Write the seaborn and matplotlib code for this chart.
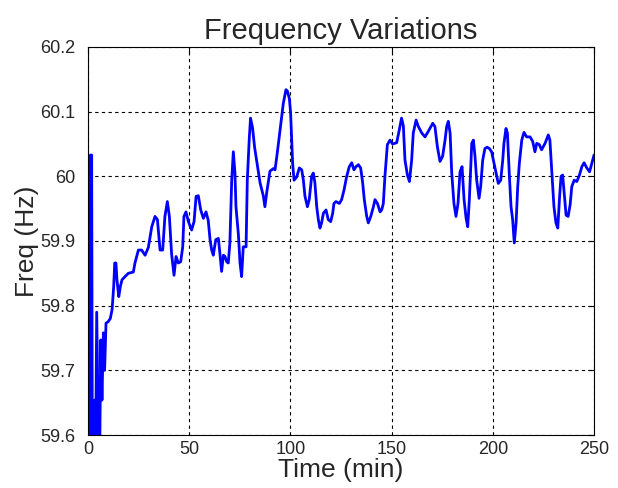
import numpy as np
import pandas as pd
import seaborn as sns
import matplotlib.pyplot as plt

# values
time_min = [0.0, 0.3, 0.6, 0.9, 1.2, 1.5, 1.8, 2.2, 3.0, 3.3, 3.6, 4.3, 4.9, 5.6, 6.3, 6.9, 7.6,
            8.2, 8.9, 9.9,
            11.0, 11.9, 12.7, 13.2, 13.8, 14.3, 15.2, 16.0, 16.8, 18.3, 19.9, 22.4, 23.2, 24.9,
            26.5, 28.2, 29.8, 31.5, 33.1, 34.3, 35.6, 36.9, 38.0, 39.2, 40.2, 41.3, 42.5, 43.5,
            44.6, 45.8, 46.8, 47.4, 48.4, 49.6, 51.2, 52.4, 53.4, 54.5, 55.7, 57.0, 58.3, 59.4,
            60.3, 61.1, 61.9, 63.1, 64.4, 65.2, 66.0, 66.9, 67.7, 68.5, 69.3, 70.1, 71.0, 71.8,
            72.6, 73.1, 74.3, 75.1, 75.9, 76.7, 78.1, 78.7, 79.7, 80.3, 81.3, 82.3, 83.3, 85.0,
            86.6, 87.4, 88.3, 89.9, 91.6, 92.4, 93.5, 94.9, 96.5, 97.8, 98.5, 99.5, 100.1, 100.6,
            101.1, 101.8, 103.1, 104.4, 105.6, 106.4, 107.2, 108.4, 109.3, 110.5, 111.3, 112.1,
            113.0, 113.8, 114.6, 115.4, 116.3, 117.6, 118.7, 119.9, 120.9, 121.5, 122.5, 124.2,
            125.3, 126.5, 127.8, 129.1, 130.3, 131.4, 132.4, 133.6, 134.7, 135.7, 136.5, 137.7,
            138.5, 139.7, 141.0, 141.8, 143.0, 144.3, 145.1, 145.9, 146.7, 147.9, 149.2, 150.5,
            152.5, 153.8, 154.9, 155.8, 156.6, 157.8, 158.8, 159.9, 160.7, 162.1, 163.2, 164.9,
            166.5, 168.2, 170.3, 171.4, 172.6, 173.9, 175.2, 176.4, 177.2, 178.0, 178.9, 179.7,
            180.8, 181.8, 182.8, 183.8, 184.8, 185.8, 186.8, 187.6, 188.4, 189.6, 190.4, 191.2,
            192.0, 193.2, 194.0, 195.0, 196.1, 197.2, 198.3, 199.4, 200.6, 201.6, 202.7, 203.9,
            204.9, 205.5, 206.5, 207.2, 208.2, 209.0, 209.8, 210.6, 211.5, 212.3, 213.1, 214.3,
            215.4, 216.7, 218.4, 219.7, 220.8, 221.7, 223.0, 224.1, 225.8, 227.4, 228.2, 229.1,
            230.2, 231.2, 232.1, 232.9, 233.7, 234.5, 235.4, 236.2, 237.2, 238.2, 239.0, 240.2,
            241.5, 242.8, 244.0, 245.1, 246.4, 247.8, 248.9, 250.0]

freq_hz = [60.0, 59.5, 60.0, 59.5, 60.033, 59.5, 60.033, 59.5, 59.5, 59.654, 59.5, 59.79, 59.654,
           59.5, 59.747, 59.654, 59.758, 59.70, 59.773, 59.775,
           59.78, 59.794, 59.83, 59.866, 59.866, 59.84,
           59.814, 59.83, 59.84, 59.845, 59.85, 59.852, 59.866, 59.886, 59.886, 59.878, 59.89,
           59.922, 59.938, 59.933, 59.886, 59.886, 59.938, 59.961, 59.938, 59.88, 59.847, 59.876,
           59.866, 59.868, 59.891, 59.938, 59.945, 59.93, 59.917, 59.93, 59.969, 59.97, 59.948,
           59.935, 59.945, 59.932, 59.902, 59.886, 59.878, 59.902, 59.904, 59.88, 59.853, 59.878,
           59.876, 59.868, 59.866, 59.897, 59.994, 60.038, 60.005, 59.953, 59.91, 59.866, 59.845,
           59.891, 59.891, 59.994, 60.06, 60.09, 60.075, 60.045, 60.025, 59.99, 59.97, 59.953,
           59.975, 60.008, 60.012, 60.01, 60.036, 60.072, 60.113, 60.134, 60.132, 60.12, 60.098,
           60.061, 60.02, 59.994, 59.999, 60.013, 60.01, 59.994, 59.969, 59.953, 59.964, 60.0,
           60.005, 59.99, 59.953, 59.933, 59.92, 59.928, 59.943, 59.948, 59.933, 59.93, 59.943,
           59.958, 59.961, 59.958, 59.964, 59.979, 60.0, 60.015, 60.021, 60.01, 60.015, 60.018,
           60.013, 59.99, 59.964, 59.938, 59.928, 59.938, 59.953, 59.964, 59.958, 59.945, 59.948,
           59.958, 60.0, 60.049, 60.056, 60.05, 60.052, 60.072, 60.09, 60.078, 60.025, 60.002,
           59.992, 60.025, 60.067, 60.087, 60.077, 60.067, 60.061, 60.07, 60.082, 60.077, 60.046,
           60.023, 60.031, 60.056, 60.077, 60.085, 60.067, 60.005, 59.958, 59.938, 59.958, 60.007,
           60.015, 59.964, 59.935, 59.922, 59.964, 60.051, 60.056, 60.031, 59.995, 59.966, 59.984,
           60.025, 60.043, 60.045, 60.043, 60.038, 60.02, 60.005, 59.989, 59.994, 60.025, 60.051,
           60.074, 60.067, 60.0, 59.953, 59.933, 59.897, 59.928, 59.984, 60.02, 60.056, 60.068,
           60.061, 60.061, 60.054, 60.038, 60.051, 60.049, 60.041, 60.051, 60.064, 60.056, 60.01,
           59.953, 59.928, 59.92, 59.964, 60.0, 60.002, 59.969, 59.94, 59.938, 59.956, 59.984,
           59.994, 59.992, 60.002, 60.015, 60.021, 60.013, 60.007, 60.02, 60.033]

x_ticks = [0, 50, 100, 150, 200, 250]
y_ticks = [59.6, 59.7, 59.8, 59.9, 60.0, 60.1, 60.2]
y_tick_labels = ['59.6', '59.7', '59.8', '59.9', '60', '60.1', '60.2']

sns.set_style('white')
plt.rcParams['font.family'] = ['Liberation Sans', 'DejaVu Sans']

df = pd.DataFrame({'Time (min)': time_min, 'Freq (Hz)': freq_hz})

fig = plt.figure(figsize=(6.18, 4.88), dpi=100)
ax = fig.add_axes([0.1424, 0.1086, 0.8188, 0.7951])
sns.lineplot(data=df, x='Time (min)', y='Freq (Hz)', estimator=None, sort=False,
             color='#0000ff', linewidth=2.0, ax=ax)

ax.set_xlim(0, 250)
ax.set_ylim(59.6, 60.2)
ax.set_xticks(x_ticks)
ax.set_yticks(y_ticks)
ax.set_yticklabels(y_tick_labels)
ax.grid(True, color='black', linestyle=(0, (3, 3)), linewidth=0.8)
for s in ax.spines.values():
    s.set_color('black')
    s.set_linewidth(0.8)
ax.tick_params(direction='in', length=4, top=True, right=True, labelsize=13,
               colors='black', labelcolor='#262626')
ax.tick_params(axis='x', pad=4)
ax.tick_params(axis='y', pad=9)

ax.set_title('Frequency Variations', fontsize=21, pad=6)
ax.set_xlabel('Time (min)', fontsize=19, labelpad=0)
ax.set_ylabel('Freq (Hz)', fontsize=19, labelpad=1)

fig.savefig('out.png', dpi=100)
